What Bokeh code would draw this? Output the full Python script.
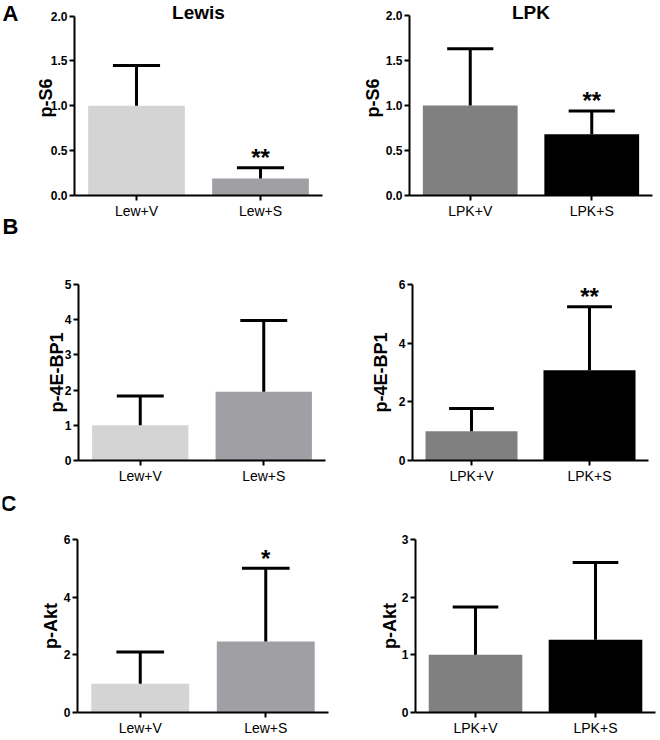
from bokeh.plotting import figure
from bokeh.models import (FactorRange, Range1d, ColumnDataSource, FixedTicker,
                          PrintfTickFormatter, Label)
from bokeh.transform import dodge
from bokeh.layouts import row, column
from bokeh.core.properties import value
from bokeh.embed import file_html
from bokeh.resources import INLINE

# ---------------- data ----------------
groups_lew = ["Lew+V", "Lew+S"]
groups_lpk = ["LPK+V", "LPK+S"]
colors_lew = ["#d4d4d4", "#a0a0a4"]
colors_lpk = ["#808080", "#000000"]

ps6_lew_mean = [1.0, 0.19]
ps6_lew_sd = [0.45, 0.12]
ps6_lew_sig = ["", "**"]

ps6_lpk_mean = [1.0, 0.68]
ps6_lpk_sd = [0.63, 0.26]
ps6_lpk_sig = ["", "**"]

p4e_lew_mean = [1.0, 1.95]
p4e_lew_sd = [0.83, 2.03]
p4e_lew_sig = ["", ""]

p4e_lpk_mean = [1.0, 3.08]
p4e_lpk_sd = [0.77, 2.16]
p4e_lpk_sig = ["", "**"]

akt_lew_mean = [1.0, 2.46]
akt_lew_sd = [1.10, 2.54]
akt_lew_sig = ["", "*"]

akt_lpk_mean = [1.0, 1.26]
akt_lpk_sd = [0.83, 1.34]
akt_lpk_sig = ["", ""]

ticks_ps6 = [0.0, 0.5, 1.0, 1.5, 2.0]
ticks_p4e_lew = [0, 1, 2, 3, 4, 5]
ticks_p4e_lpk = [0, 2, 4, 6]
ticks_akt_lew = [0, 2, 4, 6]
ticks_akt_lpk = [0, 1, 2, 3]

panel_titles = ["Lewis", "LPK"]
panel_letters = ["A", "B", "C"]

FONT = "Liberation Sans"


def panel(cats, means, sds, colors, sig, ticks, fmt, ylabel, lab_standoff,
          width, height, bl, br, bt, bb, pad=0):
    upper = [m + s for m, s in zip(means, sds)]
    src = ColumnDataSource(dict(cat=cats, mean=means, upper=upper,
                                color=colors, sig=sig))
    axis_h = height - bt - bb
    y_end = ticks[-1] * (axis_h + pad) / axis_h
    p = figure(x_range=FactorRange(*cats, range_padding=0),
               y_range=Range1d(0, y_end),
               width=width, height=height,
               min_border_left=bl, min_border_right=br,
               min_border_top=bt - pad, min_border_bottom=bb,
               output_backend="svg", toolbar_location=None,
               outline_line_color=None, background_fill_color="white",
               border_fill_color="white")
    p.xgrid.visible = False
    p.ygrid.visible = False

    p.vbar(x="cat", top="mean", width=0.78, fill_color="color",
           line_color=None, source=src)
    p.segment(x0="cat", y0="mean", x1="cat", y1="upper", line_width=3,
              line_color="black", source=src)
    p.segment(x0=dodge("cat", -0.19, range=p.x_range), y0="upper",
              x1=dodge("cat", 0.19, range=p.x_range), y1="upper",
              line_width=3, line_color="black", source=src)
    p.text(x="cat", y="upper", text="sig", source=src, text_align="center",
           text_baseline="alphabetic", y_offset=-10,
           text_font=value(FONT), text_font_size="24px",
           text_font_style="bold", text_color="black")

    for ax in (p.xaxis[0], p.yaxis[0]):
        ax.axis_line_width = 2
        ax.axis_line_color = "black"
        ax.major_tick_line_width = 2
        ax.major_tick_line_color = "black"
        ax.major_tick_in = 0
        ax.major_tick_out = 5
        ax.minor_tick_line_color = None
        ax.major_label_standoff = 2
        ax.major_label_text_font = FONT
        ax.major_label_text_color = "black"

    p.xaxis.major_label_text_font_size = "14px"
    p.xaxis.major_label_text_font_style = "normal"
    p.yaxis.major_label_text_font_size = "12px"
    p.yaxis.major_label_text_font_style = "bold"
    p.yaxis.ticker = FixedTicker(ticks=ticks)
    p.yaxis.formatter = PrintfTickFormatter(format=fmt)
    p.yaxis.bounds = (0, ticks[-1])
    p.yaxis.axis_label = ylabel
    p.yaxis.axis_label_text_font = FONT
    p.yaxis.axis_label_text_font_size = "18px"
    p.yaxis.axis_label_text_font_style = "bold"
    p.yaxis.axis_label_text_color = "black"
    p.yaxis.axis_label_standoff = lab_standoff
    return p


def add_text(p, text, x, y, dx, dy, size, baseline="middle"):
    p.add_layout(Label(x=x, y=y, x_offset=dx, y_offset=dy, text=text,
                       text_align="center", text_baseline=baseline,
                       text_font=FONT, text_font_size=size,
                       text_font_style="bold", text_color="black"))


LW = 308  # width of left panels (letters strip takes 20 px)
tl = panel(groups_lew, ps6_lew_mean, ps6_lew_sd, colors_lew, ps6_lew_sig,
           ticks_ps6, "%.1f", "p-S6", -8, LW, 240, 52, 8, 16, 40, pad=16)
tr = panel(groups_lpk, ps6_lpk_mean, ps6_lpk_sd, colors_lpk, ps6_lpk_sig,
           ticks_ps6, "%.1f", "p-S6", 0, 328, 240, 79, 6, 15, 45, pad=15)
ml = panel(groups_lew, p4e_lew_mean, p4e_lew_sd, colors_lew, p4e_lew_sig,
           ticks_p4e_lew, "%d", "p-4E-BP1", -5, LW, 250, 56, 5, 39, 30)
mr = panel(groups_lpk, p4e_lpk_mean, p4e_lpk_sd, colors_lpk, p4e_lpk_sig,
           ticks_p4e_lpk, "%d", "p-4E-BP1", 5, 328, 250, 82, 10, 44, 30)
bl = panel(groups_lew, akt_lew_mean, akt_lew_sd, colors_lew, akt_lew_sig,
           ticks_akt_lew, "%d", "p-Akt", 0, LW, 248, 55, 2, 44, 20)
br = panel(groups_lpk, akt_lpk_mean, akt_lpk_sd, colors_lpk, akt_lpk_sig,
           ticks_akt_lpk, "%d", "p-Akt", -1, 328, 248, 85, 3, 49, 19)

add_text(tl, panel_titles[0], 1.0, 2.0, 0, 4, "19px")
add_text(tr, panel_titles[1], 1.0, 2.0, 0, 3, "19px")

# narrow strip carrying the panel letters (screen-like coordinates, y down)
letters = figure(width=20, height=738, x_range=Range1d(0, 20),
                 y_range=Range1d(738, 0), min_border=0,
                 x_axis_location=None, y_axis_location=None,
                 output_backend="svg", toolbar_location=None,
                 outline_line_color=None, background_fill_color="white",
                 border_fill_color="white")
letters.xgrid.visible = False
letters.ygrid.visible = False
add_text(letters, panel_letters[0], 8, 0, 0, 0, "22px", baseline="top")
add_text(letters, panel_letters[1], 8, 226, 0, 0, "22px")
add_text(letters, panel_letters[2], 6, 503, 0, 0, "22px")

grid = column(row(tl, tr), row(ml, mr), row(bl, br))
layout = row(letters, grid, margin=(0, 0, 0, 2))

open("out.html", "w").write(file_html(layout, INLINE))
